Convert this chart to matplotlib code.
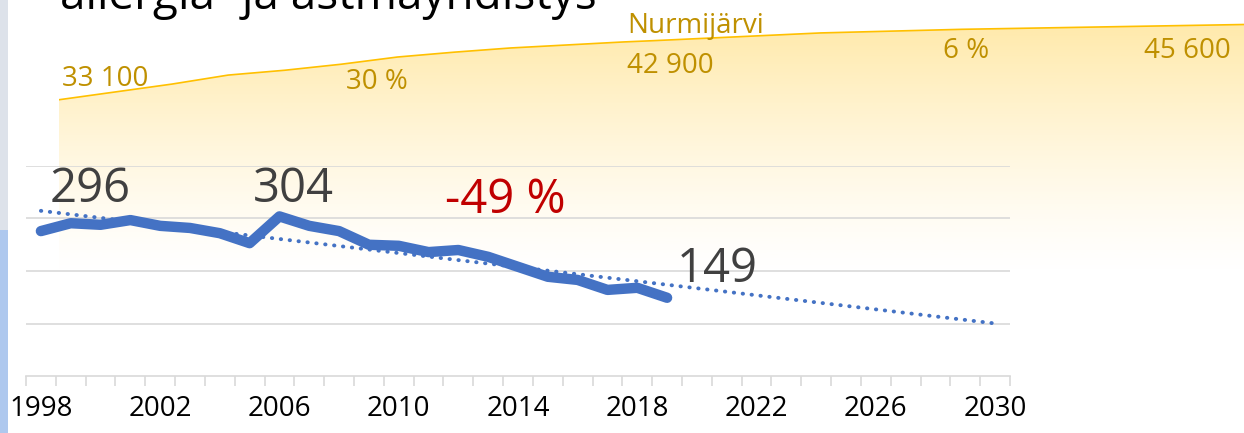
import numpy as np
import matplotlib
matplotlib.use("Agg")
import matplotlib.pyplot as plt
from matplotlib.patches import Rectangle, Polygon

# Emissions (kt CO2e) 1998-2019
years = np.arange(1998, 2020)
emissions = [276, 291, 288, 297, 286, 282, 272, 253, 304, 286, 276,
             250, 248, 236, 240, 227, 208, 189, 183, 164, 168, 149]
trend_end = 2030

# Population of Nurmijärvi, with forecast to 2040
pop_years = [1998, 2000, 2002, 2004, 2006, 2008, 2010, 2012, 2014, 2016,
             2018, 2019, 2025, 2030, 2035, 2040]
pop = [33100, 34400, 35700, 37200, 38000, 39000, 40200, 41000, 41700, 42200,
       42700, 42900, 44200, 44800, 45200, 45600]

tick_years = list(range(1998, 2031, 4))

W, H = 1244, 433
fig = plt.figure(figsize=(W / 100, H / 100), dpi=100)
fig.patch.set_facecolor("white")


def fx(x):
    return x / W


def fy(y):
    return 1 - y / H


# strip of the slide background on the left edge
fig.patches.append(Rectangle((0, 0), fx(8), 1, transform=fig.transFigure,
                             facecolor="#aec8ee", edgecolor="none"))
fig.patches.append(Rectangle((0, fy(230)), fx(8), 230 / H, transform=fig.transFigure,
                             facecolor="#dde2ea", edgecolor="none"))

# population area (background layer)
ax2 = fig.add_axes([fx(59), fy(299), fx(W - 59), 299 / H])
ax2.set_xlim(1998, 2040)
ax2.set_ylim(0, 49670)
ax2.axis("off")
grad = np.linspace(0, 1, 300)[:, None]
alpha = 0.62 * np.clip((grad - 0.08) / 0.92, 0, 1) ** 1.3
img = np.zeros((300, 2, 4))
img[..., 0] = 1.0
img[..., 1] = 0.85
img[..., 2] = 0.40
img[..., 3] = alpha
im = ax2.imshow(img, extent=[1998, 2040, 0, 49670], origin="lower",
                aspect="auto", zorder=1)
poly = Polygon(list(zip(pop_years, pop)) + [(2040, 0), (1998, 0)],
               closed=True, facecolor="none", edgecolor="none")
ax2.add_patch(poly)
im.set_clip_path(poly)
ax2.plot(pop_years, pop, color="#ffc000", lw=1.2, zorder=2)

# emissions chart
ax = fig.add_axes([fx(26), fy(376), fx(1010 - 26), (376 - 166) / H])
ax.patch.set_alpha(0)
ax.set_xlim(1997.5, 2030.5)
ax.set_ylim(0, 400)
for s in ["top", "right", "left"]:
    ax.spines[s].set_visible(False)
ax.spines["bottom"].set_color("#d9d9d9")
ax.spines["bottom"].set_linewidth(1.2)
ax.set_yticks([100, 200, 300, 400])
ax.yaxis.grid(True, color="#d9d9d9", lw=1.2)
ax.tick_params(axis="y", left=False, labelleft=False)
ax.set_xticks(np.arange(1997.5, 2031, 1))
ax.tick_params(axis="x", which="major", length=7.5, width=1.2, color="#d9d9d9",
               labelbottom=False)
ax.set_xticks(tick_years, minor=True)
ax.set_xticklabels([str(y) for y in tick_years], minor=True,
                   fontsize=20, family="Open Sans")
ax.tick_params(axis="x", which="minor", length=0, pad=14, labelcolor="#000000")

coef = np.polyfit(years, emissions, 1)
tx = np.array([years[0], trend_end])
ax.plot(tx, np.polyval(coef, tx), color="#4472c4", lw=2.8,
        linestyle=(0, (0.1, 2.2)), dash_capstyle="round", zorder=3)
ax.plot(years, emissions, color="#4472c4", lw=7.5, solid_capstyle="round",
        solid_joinstyle="round", zorder=4)

# texts
big = dict(fontsize=34, family="Open Sans", va="baseline", ha="left")
fig.text(fx(50), fy(202), "296", color="#404040", **big)
fig.text(fx(253), fy(202), "304", color="#404040", **big)
fig.text(fx(677), fy(282), "149", color="#404040", **big)
fig.text(fx(445), fy(213), "-49 %", color="#c00000", **big)


def fmt(v):
    return f"{v:,}".replace(",", " ")


gold = dict(fontsize=20, family="Open Sans", va="baseline", ha="left", color="#bf9000")
p0, p1, p2 = pop[0], pop[pop_years.index(2019)], pop[-1]
fig.text(fx(627), fy(33), "Nurmijärvi", **gold)
fig.text(fx(62), fy(86), fmt(p0), **gold)
fig.text(fx(346), fy(89), f"{round((p1 / p0 - 1) * 100)} %", **gold)
fig.text(fx(627), fy(73), fmt(p1), **gold)
fig.text(fx(943), fy(58), f"{round((p2 / p1 - 1) * 100)} %", **gold)
fig.text(fx(1144), fy(58), fmt(p2), **gold)

# title, cut off at the top of the picture (as in the slide screenshot)
fig.text(fx(60), fy(9), "allergia- ja astmayhdistys", fontsize=33,
         family="Open Sans", va="baseline", ha="left", color="#000000")

fig.savefig("out.png", dpi=100)
